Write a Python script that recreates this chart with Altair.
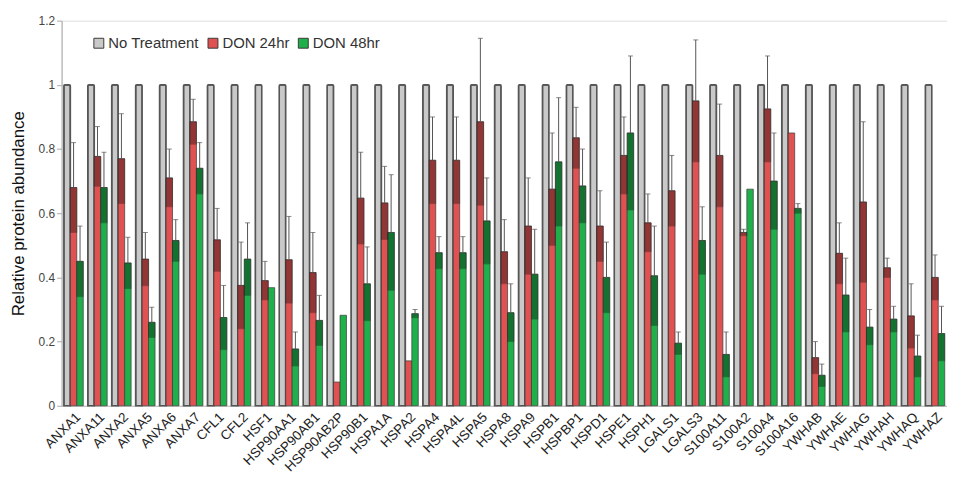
import altair as alt
import pandas as pd

genes = ["ANXA1", "ANXA11", "ANXA2", "ANXA5", "ANXA6", "ANXA7", "CFL1", "CFL2", "HSF1",
         "HSP90AA1", "HSP90AB1", "HSP90AB2P", "HSP90B1", "HSPA1A", "HSPA2", "HSPA4", "HSPA4L",
         "HSPA5", "HSPA8", "HSPA9", "HSPB1", "HSPBP1", "HSPD1", "HSPE1", "HSPH1", "LGALS1",
         "LGALS3", "S100A11", "S100A2", "S100A4", "S100A16", "YWHAB", "YWHAE", "YWHAG",
         "YWHAH", "YWHAQ", "YWHAZ"]

no_treatment = [1.0] * len(genes)

don24 = [0.68, 0.777, 0.77, 0.457, 0.71, 0.885, 0.517, 0.375, 0.39,
         0.455, 0.415, 0.074, 0.647, 0.632, 0.14, 0.765, 0.765,
         0.885, 0.48, 0.56, 0.675, 0.835, 0.56, 0.78, 0.57, 0.67,
         0.95, 0.78, 0.54, 0.925, 0.85, 0.15, 0.475, 0.635,
         0.43, 0.28, 0.40]
don24_err = [0.14, 0.093, 0.14, 0.083, 0.09, 0.07, 0.098, 0.135, 0.06,
             0.135, 0.125, 0.0, 0.143, 0.114, 0.0, 0.135, 0.135,
             0.26, 0.10, 0.15, 0.175, 0.095, 0.11, 0.12, 0.09, 0.11,
             0.19, 0.16, 0.01, 0.165, 0.0, 0.05, 0.095, 0.25,
             0.03, 0.10, 0.07]

don48 = [0.45, 0.68, 0.445, 0.26, 0.515, 0.74, 0.275, 0.457, 0.368,
         0.177, 0.266, 0.282, 0.38, 0.54, 0.287, 0.477, 0.477,
         0.576, 0.29, 0.41, 0.76, 0.685, 0.40, 0.85, 0.405, 0.195,
         0.515, 0.16, 0.675, 0.70, 0.615, 0.095, 0.345, 0.245,
         0.27, 0.155, 0.225]
don48_err = [0.11, 0.11, 0.08, 0.047, 0.065, 0.08, 0.10, 0.113, 0.0,
             0.053, 0.078, 0.0, 0.115, 0.18, 0.013, 0.05, 0.05,
             0.134, 0.09, 0.14, 0.20, 0.115, 0.11, 0.24, 0.155, 0.035,
             0.105, 0.07, 0.0, 0.15, 0.015, 0.035, 0.115, 0.055,
             0.04, 0.065, 0.085]

series_names = ["No Treatment", "DON 24hr", "DON 48hr"]
series_colors = ["#c9c9c9", "#e05252", "#1fb04c"]

rows = []
for i, g in enumerate(genes):
    rows.append({"gene": g, "series": series_names[0], "value": no_treatment[i], "err": 0.0})
    rows.append({"gene": g, "series": series_names[1], "value": don24[i], "err": don24_err[i]})
    rows.append({"gene": g, "series": series_names[2], "value": don48[i], "err": don48_err[i]})
df = pd.DataFrame(rows)
df["lo"] = df["value"] - df["err"]
df["hi"] = df["value"] + df["err"]

x_enc = alt.X("gene:N", sort=genes, title=None,
              scale=alt.Scale(paddingInner=0, paddingOuter=0),
              axis=alt.Axis(labelAngle=-45, ticks=False, labelFontSize=13.5,
                            labelColor="#222", domainColor="#bbb", labelPadding=4))
xo_enc = alt.XOffset("series:N", sort=series_names,
                     scale=alt.Scale(paddingInner=0, paddingOuter=0.35))
y_scale = alt.Scale(domain=[0, 1.2], nice=False)

base = alt.Chart(df)

gray_bars = base.transform_filter(alt.datum.series == "No Treatment").mark_bar(
    stroke="#555", strokeWidth=1.6, cornerRadiusTopLeft=1, cornerRadiusTopRight=1
).encode(
    x=x_enc, xOffset=xo_enc,
    y=alt.Y("value:Q", scale=y_scale, title="Relative protein abundance",
            axis=alt.Axis(values=[0, 0.2, 0.4, 0.6, 0.8, 1.0, 1.2], format="~g", grid=False,
                          domainColor="#aaa", tickColor="#aaa", tickSize=5,
                          labelColor="#444", labelFontSize=12, titleFontSize=17,
                          titleColor="#111", titleFontWeight="normal", titleX=-34,
                          titleY=194, titleBaseline="bottom", titleAngle=270)),
    color=alt.Color("series:N", sort=series_names,
                    scale=alt.Scale(domain=series_names, range=series_colors),
                    legend=alt.Legend(title=None, orient="none", legendX=30, legendY=15,
                                      direction="horizontal", symbolType="square",
                                      symbolSize=100, symbolStrokeColor="#444",
                                      symbolStrokeWidth=1, labelFontSize=15,
                                      labelColor="#333", columnPadding=6, symbolOffset=0,
                                      labelOffset=2)),
)

color_bars = base.transform_filter(alt.datum.series != "No Treatment").mark_bar(
    stroke="#3a3a3a", strokeWidth=0.7
).encode(
    x=x_enc, xOffset=xo_enc,
    y=alt.Y("value:Q", scale=y_scale),
    color=alt.Color("series:N", sort=series_names,
                    scale=alt.Scale(domain=series_names, range=series_colors)),
)

err_df_filter = (alt.datum.series != "No Treatment") & (alt.datum.err > 0.005)

dark_band = base.transform_filter(err_df_filter).mark_bar(
    color="#000", opacity=0.35, stroke="#111", strokeWidth=0.8
).encode(
    x=x_enc, xOffset=xo_enc,
    y=alt.Y("lo:Q", scale=y_scale), y2="value:Q",
)

err_rule = base.transform_filter(err_df_filter).mark_rule(
    color="#555", strokeWidth=1
).encode(
    x=x_enc, xOffset=xo_enc,
    y=alt.Y("value:Q", scale=y_scale), y2="hi:Q",
)

err_cap = base.transform_filter(err_df_filter).mark_tick(
    color="#555", thickness=1, size=5
).encode(
    x=x_enc, xOffset=xo_enc,
    y=alt.Y("hi:Q", scale=y_scale),
)

chart = alt.layer(gray_bars, color_bars, dark_band, err_rule, err_cap).properties(
    width=892, height=388,
    autosize=alt.AutoSizeParams(type="none"),
    padding={"left": 54, "top": 11, "right": 0, "bottom": 70},
).configure_view(stroke=None).configure(font="Liberation Sans")

chart.save("out.html", embed_options={"renderer": "svg", "actions": False})
